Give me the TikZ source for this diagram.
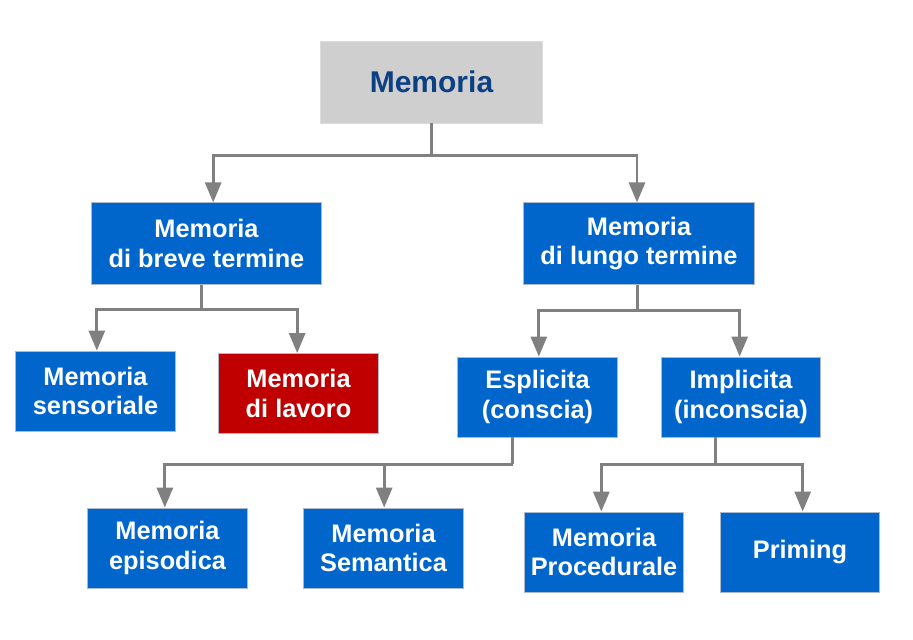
\documentclass[tikz,border=0pt]{standalone}
\usepackage{fontspec}
\setmainfont{Liberation Sans}
\usetikzlibrary{arrows.meta}

\begin{document}
\begin{tikzpicture}[x=0.75pt,y=0.75pt,yscale=-1,xscale=1,
  box/.style={draw={rgb, 255:red, 170; green, 185; blue, 205 }, line width=0.6pt, fill={rgb, 255:red, 0; green, 102; blue, 204 }, text={rgb, 255:red, 255; green, 255; blue, 255 }, font=\fontsize{19}{22}\selectfont\bfseries, align=center, inner sep=0pt, minimum width=119.5pt, minimum height=60pt},
  bigbox/.style={box, minimum width=173pt, minimum height=61pt},
  redbox/.style={box, fill={rgb, 255:red, 192; green, 0; blue, 0 }},
  topbox/.style={draw={rgb, 255:red, 220; green, 220; blue, 220 }, line width=0.6pt, fill={rgb, 255:red, 207; green, 207; blue, 207 }, text={rgb, 255:red, 12; green, 64; blue, 130 }, font=\fontsize{22.5}{26}\selectfont\bfseries, inner sep=0pt, minimum width=167pt, minimum height=61.5pt},
  link/.style={draw={rgb, 255:red, 128; green, 128; blue, 128 }, line width=2.1pt},
  arr/.style={link, -{Triangle[length=15pt,width=12pt]}}
]
\useasboundingbox (0,0) rectangle (913,639);

%Shape: Rectangle [top]
\node [topbox] (mem) at (431.5,82) {Memoria};
%Shape: Rectangle [second row]
\node [bigbox] (breve) at (206.5,243.5) {Memoria\\di breve termine};
\node [bigbox] (lungo) at (639,243.5) {Memoria\\di lungo termine};
%Shape: Rectangle [third row]
\node [box] (sens) at (95.5,391) {Memoria\\sensoriale};
\node [redbox] (lavoro) at (298.5,393.5) {Memoria\\di lavoro};
\node [box] (espl) at (537.5,397) {Esplicita\\(conscia)};
\node [box] (impl) at (741,397) {Implicita\\(inconscia)};
%Shape: Rectangle [fourth row]
\node [box] (episod) at (167.5,548) {Memoria\\episodica};
\node [box] (seman) at (383.5,548) {Memoria\\Semantica};
\node [box] (proced) at (604,552) {Memoria\\Procedurale};
\node [box] (priming) at (800,552) {Priming};

%Connectors: Memoria
\draw [link] (mem.south) -- ++(0,32) coordinate (j0);
\draw [arr] (j0) -| ([xshift=5pt]breve.north);
\draw [arr] (j0) -| ([xshift=-1.5pt]lungo.north);
%Connectors: breve termine
\draw [link] ([xshift=-3.5pt]breve.south) -- ++(0,25) coordinate (j1);
\draw [arr] (j1) -| ([xshift=1pt]sens.north);
\draw [arr] (j1) -| ([xshift=-1pt]lavoro.north);
%Connectors: lungo termine
\draw [link] ([xshift=-1pt]lungo.south) -- ++(0,26) coordinate (j2);
\draw [arr] (j2) -| ([xshift=1pt]espl.north);
\draw [arr] (j2) -| ([xshift=-1pt]impl.north);
%Connectors: esplicita
\draw [link] ([xshift=-18.5pt]espl.south) -- ++(0,27) coordinate (j3);
\draw [arr] (j3) -| ([xshift=-2pt]episod.north);
\draw [arr] (j3) -| ([xshift=0.5pt]seman.north);
%Connectors: implicita
\draw [link] ([xshift=-19pt]impl.south) -- ++(0,27) coordinate (j4);
\draw [arr] (j4) -| ([xshift=-2pt]proced.north);
\draw [arr] (j4) -| ([xshift=2pt]priming.north);

\end{tikzpicture}
\end{document}
